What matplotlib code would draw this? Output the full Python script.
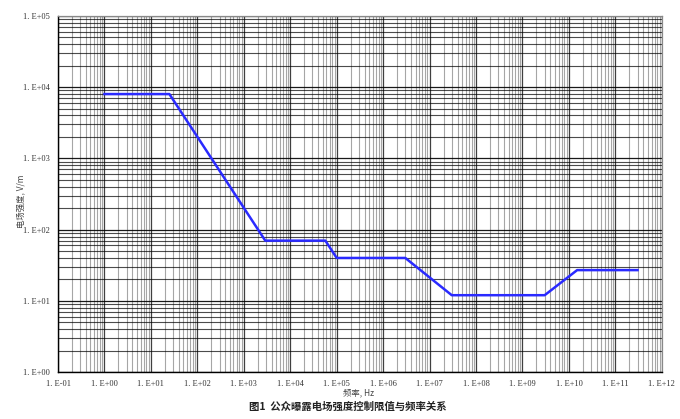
import math
import matplotlib
matplotlib.use("Agg")
import matplotlib.pyplot as plt
from matplotlib.ticker import LogLocator, FuncFormatter, NullFormatter

# 公众曝露电场强度控制限值 (breakpoints)
freq_hz = [1, 25, 2900, 57000, 1e5, 3e6, 3e7, 3e9, 1.5e10, 3e11]
field_vm = [8000, 8000, 70, 70, 40, 40, 12, 12, 27, 27]

x_label = "频率, Hz"
y_label = "电场强度, V/m"
title = "图1  公众曝露电场强度控制限值与频率关系"

plt.rcParams['font.family'] = ['Noto Sans CJK SC', 'DejaVu Sans']


def sci_label(v, pos):
    e = int(round(math.log10(v)))
    sign = "+" if e >= 0 else "-"
    return "1. E%s%02d" % (sign, abs(e))


fig = plt.figure(figsize=(6.8, 4.19), dpi=100)
ax = fig.add_axes([0.0853, 0.112, 0.888, 0.850])

ax.plot(freq_hz, field_vm, color="#2a2aff", lw=1.8, zorder=3)

ax.set_xscale("log")
ax.set_yscale("log")
ax.set_xlim(1e-1, 1e12)
ax.set_ylim(1e0, 1e5)

ax.xaxis.set_major_locator(LogLocator(base=10, numticks=20))
ax.yaxis.set_major_locator(LogLocator(base=10, numticks=20))
ax.xaxis.set_minor_locator(LogLocator(base=10, subs=range(2, 10), numticks=200))
ax.yaxis.set_minor_locator(LogLocator(base=10, subs=range(2, 10), numticks=200))
ax.xaxis.set_major_formatter(FuncFormatter(sci_label))
ax.yaxis.set_major_formatter(FuncFormatter(sci_label))
ax.xaxis.set_minor_formatter(NullFormatter())
ax.yaxis.set_minor_formatter(NullFormatter())

# horizontal lines are darker than vertical ones in the original
ax.grid(axis="y", which="major", color="black", lw=0.9, alpha=0.9)
ax.grid(axis="y", which="minor", color="black", lw=0.8, alpha=0.7)
ax.grid(axis="x", which="major", color="black", lw=0.9, alpha=0.75)
ax.grid(axis="x", which="minor", color="black", lw=0.8, alpha=0.35)

ax.tick_params(which="both", length=0, labelsize=6, pad=6, colors="#333333")
for lab in ax.get_xticklabels() + ax.get_yticklabels():
    lab.set_family(["Liberation Serif", "DejaVu Serif"])

for side in ("left", "bottom"):
    ax.spines[side].set_color("black")
    ax.spines[side].set_linewidth(1.0)
for side in ("top", "right"):
    ax.spines[side].set_color("#888888")
    ax.spines[side].set_linewidth(0.9)

fig.text(0.528, 0.063, x_label, ha="center", va="center", fontsize=6, color="#444444")
fig.text(0.031, 0.52, y_label, ha="center", va="center", fontsize=6,
         rotation=90, color="#444444")
fig.text(0.512, 0.030, title, ha="center", va="center", fontsize=7.5,
         fontweight="bold", color="#222222")

fig.savefig("out.png", dpi=100)
